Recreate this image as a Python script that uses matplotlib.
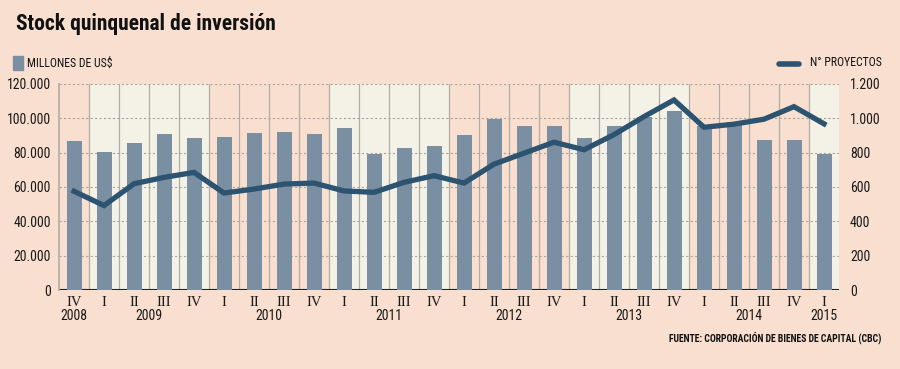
import matplotlib
matplotlib.use("Agg")
import matplotlib.pyplot as plt
from matplotlib.ticker import FuncFormatter, FixedLocator

# ---- data ----
quarters = ["IV", "I", "II", "III", "IV", "I", "II", "III", "IV", "I", "II", "III", "IV",
            "I", "II", "III", "IV", "I", "II", "III", "IV", "I", "II", "III", "IV", "I"]
years = ["2008", "2009", "2010", "2011", "2012", "2013", "2014", "2015"]
year_start = [0, 1, 5, 9, 13, 17, 21, 25]
year_len = [1, 4, 4, 4, 4, 4, 4, 1]
stock = [86700, 80100, 85500, 90800, 88400, 89400, 91500, 91900, 90600, 94200,
         79200, 82600, 83600, 90400, 99500, 95800, 95400, 88800, 95800, 101000,
         104500, 95300, 98100, 87500, 87300, 79100]
proyectos = [575, 492, 619, 656, 685, 565, 588, 617, 623, 577, 569, 627, 666, 623,
             733, 797, 861, 817, 905, 1010, 1107, 948, 966, 995, 1068, 968]
left_ticks = [0, 20000, 40000, 60000, 80000, 100000, 120000]
right_ticks = [0, 200, 400, 600, 800, 1000, 1200]

BG = "#F8DFCF"
CREAM = "#F4F2E7"
BAR = "#7B8FA3"
LINE = "#2C5370"
NARROW = ["Roboto Condensed", "DejaVu Sans"]
STRETCH = "condensed"
SERIF = ["Liberation Serif", "DejaVu Serif"]

def thousands(v, pos=None):
    return f"{int(v):,}".replace(",", ".")

fig = plt.figure(figsize=(9, 3.69), dpi=100, facecolor=BG)
ax = fig.add_axes([59/900, 1-290/369, 780/900, 206/369])
ax.set_facecolor(BG)
n = len(stock)
x = list(range(n))
ax.set_xlim(-0.5, n - 0.5)
ax.set_ylim(0, 120000)

# alternating year backgrounds
for i, (s, l) in enumerate(zip(year_start, year_len)):
    if i % 2 == 1:
        ax.axvspan(s - 0.5, s + l - 0.5, color=CREAM, zorder=0, lw=0)

# vertical separators
for b in range(1, n):
    ax.axvline(b - 0.5, color="#B3ACA4", lw=0.9, zorder=1)
# horizontal dashed grid
for t in left_ticks[1:]:
    ax.axhline(t, color="#A9A6A0", lw=0.8, ls=(0, (2, 2)), zorder=1)
ax.axhline(0, color="#222222", lw=1.5, zorder=2)

ax.bar(x, stock, width=0.5, color=BAR, zorder=3)

ax2 = ax.twinx()
ax2.set_ylim(0, 1200)
ax2.plot(x, proyectos, color=LINE, lw=3.8, zorder=4, solid_joinstyle="miter")

for a in (ax, ax2):
    for sp in a.spines.values():
        sp.set_visible(False)
ax.spines["left"].set_visible(True)
ax.spines["left"].set_color("#B3ACA4")
ax.spines["left"].set_linewidth(1.2)

ax.yaxis.set_major_locator(FixedLocator(left_ticks))
ax.yaxis.set_major_formatter(FuncFormatter(thousands))
ax2.yaxis.set_major_locator(FixedLocator(right_ticks))
ax2.yaxis.set_major_formatter(FuncFormatter(thousands))
ax.tick_params(axis="y", length=0, pad=6, labelsize=10, colors="#1a1a1a")
ax2.tick_params(axis="y", length=0, pad=8, labelsize=10, colors="#1a1a1a")
for lab in ax.get_yticklabels() + ax2.get_yticklabels():
    lab.set_family(NARROW)
    lab.set_stretch(STRETCH)

ax.set_xticks(x)
ax.set_xticklabels(quarters, family=SERIF, fontsize=10.5, color="#1a1a1a")
ax.tick_params(axis="x", length=0, pad=4)

# year labels
for yr, s, l in zip(years, year_start, year_len):
    xc = s + 0.5 * (l - 1)
    ax.text(xc, -0.128, yr, transform=ax.get_xaxis_transform(), ha="center", va="center",
            fontsize=10, family=NARROW, stretch=STRETCH, color="#1a1a1a")

# title & legends
fig.text(16/900, 1-24/369, "Stock quinquenal de inversión", fontsize=15.5, fontweight="bold",
         family=NARROW, stretch=STRETCH, va="center", ha="left", color="#111111")
fig.patches.append(plt.Rectangle((13/900, 1-70/369), 10/900, 14/369, transform=fig.transFigure,
                                 color=BAR, figure=fig))
fig.text(27/900, 1-63/369, "MILLONES DE US$", fontsize=8.5, family=NARROW, stretch=STRETCH,
         va="center", ha="left", color="#111111")
fig.lines.append(plt.Line2D([779/900, 799/900], [1-64/369, 1-64/369], transform=fig.transFigure,
                            color=LINE, lw=4, solid_capstyle="round", figure=fig))
fig.text(810/900, 1-63/369, "N° PROYECTOS", fontsize=8.5, family=NARROW, stretch=STRETCH,
         va="center", ha="left", color="#111111")
fig.text(881/900, 1-338/369, "FUENTE: CORPORACIÓN DE BIENES DE CAPITAL (CBC)", fontsize=7,
         family=NARROW, stretch=STRETCH, va="center", ha="right", color="#111111",
         fontweight="bold")

fig.savefig("out.png", dpi=100, facecolor=BG)
